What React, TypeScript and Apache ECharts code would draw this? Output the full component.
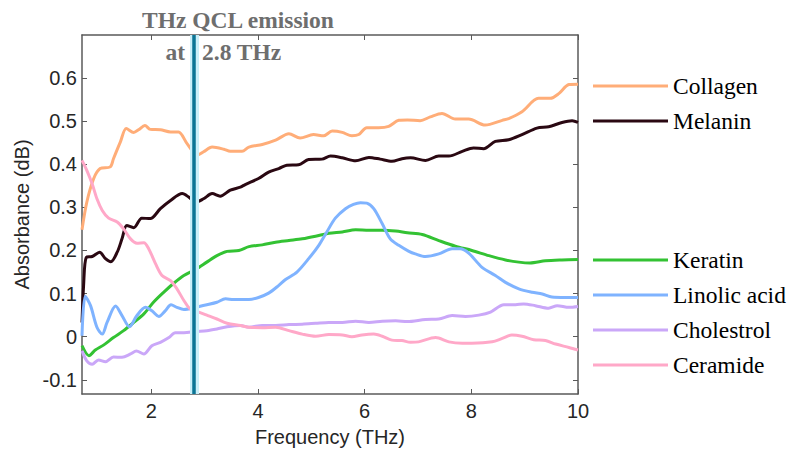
import React, { useEffect, useRef } from "react";
import * as echarts from "echarts";

const xTicks = [2, 4, 6, 8, 10];
const yTicks = [-0.1, 0, 0.1, 0.2, 0.3, 0.4, 0.5, 0.6];
const qclFrequency = 2.8;

const collagen = [[0.7,0.248],[0.79,0.312],[0.92,0.367],[1.04,0.39],[1.23,0.394],[1.29,0.413],[1.42,0.452],[1.53,0.483],[1.67,0.474],[1.76,0.48],[1.88,0.49],[1.98,0.481],[2.17,0.48],[2.36,0.475],[2.51,0.475],[2.67,0.448],[2.86,0.421],[2.98,0.429],[3.14,0.44],[3.36,0.435],[3.48,0.43],[3.7,0.43],[3.83,0.44],[4.08,0.446],[4.33,0.456],[4.58,0.471],[4.79,0.461],[5.04,0.469],[5.23,0.466],[5.39,0.477],[5.58,0.474],[5.76,0.466],[5.89,0.469],[6.04,0.485],[6.26,0.485],[6.45,0.488],[6.64,0.502],[6.8,0.503],[7.04,0.501],[7.23,0.51],[7.45,0.518],[7.7,0.505],[7.95,0.505],[8.26,0.491],[8.58,0.502],[8.7,0.506],[8.95,0.522],[9.26,0.553],[9.48,0.553],[9.64,0.564],[9.83,0.585],[10,0.586]];
const melanin = [[0.7,0.033],[0.73,0.119],[0.78,0.184],[0.89,0.186],[1.03,0.196],[1.14,0.181],[1.24,0.174],[1.36,0.196],[1.45,0.227],[1.54,0.258],[1.67,0.253],[1.82,0.275],[1.98,0.274],[2.17,0.297],[2.36,0.316],[2.58,0.332],[2.7,0.324],[2.83,0.312],[2.98,0.32],[3.14,0.332],[3.29,0.326],[3.48,0.34],[3.67,0.347],[3.76,0.353],[4.01,0.367],[4.2,0.382],[4.39,0.39],[4.54,0.398],[4.76,0.399],[4.95,0.411],[5.2,0.412],[5.36,0.419],[5.58,0.415],[5.83,0.408],[6.08,0.416],[6.29,0.412],[6.51,0.407],[6.7,0.413],[6.86,0.415],[7.14,0.409],[7.39,0.419],[7.58,0.419],[7.83,0.43],[8.04,0.438],[8.23,0.436],[8.45,0.453],[8.7,0.457],[8.95,0.469],[9.23,0.484],[9.45,0.487],[9.7,0.497],[9.89,0.501],[10,0.497]];
const keratin = [[0.7,-0.021],[0.83,-0.044],[0.95,-0.031],[1.11,-0.019],[1.29,-0.002],[1.48,0.014],[1.67,0.033],[1.86,0.053],[2.04,0.08],[2.23,0.103],[2.42,0.124],[2.61,0.142],[2.83,0.156],[3.04,0.173],[3.23,0.188],[3.42,0.198],[3.64,0.2],[3.83,0.209],[4.08,0.213],[4.33,0.219],[4.58,0.223],[4.83,0.227],[5.08,0.233],[5.33,0.24],[5.58,0.243],[5.83,0.248],[6.08,0.247],[6.33,0.247],[6.58,0.245],[6.8,0.241],[7.08,0.237],[7.39,0.223],[7.7,0.21],[8.01,0.2],[8.33,0.188],[8.64,0.178],[8.89,0.173],[9.1,0.171],[9.39,0.176],[9.7,0.178],[10,0.179]];
const linolicAcid = [[0.7,0.002],[0.76,0.094],[0.86,0.072],[0.98,0.022],[1.08,0.006],[1.17,0.033],[1.33,0.071],[1.45,0.049],[1.59,0.023],[1.73,0.049],[1.89,0.068],[2.01,0.06],[2.14,0.047],[2.26,0.06],[2.37,0.074],[2.48,0.068],[2.61,0.063],[2.83,0.068],[3.04,0.074],[3.23,0.08],[3.39,0.088],[3.54,0.086],[3.83,0.086],[4.01,0.091],[4.2,0.101],[4.39,0.119],[4.51,0.132],[4.73,0.15],[4.95,0.181],[5.14,0.212],[5.29,0.243],[5.45,0.275],[5.64,0.297],[5.79,0.307],[5.92,0.311],[6.04,0.31],[6.17,0.297],[6.33,0.262],[6.48,0.227],[6.64,0.212],[6.83,0.198],[6.95,0.192],[7.14,0.186],[7.39,0.192],[7.64,0.204],[7.79,0.204],[7.95,0.194],[8.2,0.161],[8.45,0.142],[8.64,0.126],[8.89,0.111],[9.14,0.103],[9.33,0.099],[9.51,0.092],[9.76,0.091],[10,0.091]];
const cholestrol = [[0.7,-0.033],[0.79,-0.056],[0.89,-0.064],[1.01,-0.054],[1.14,-0.058],[1.29,-0.047],[1.45,-0.048],[1.61,-0.04],[1.72,-0.033],[1.86,-0.04],[2.01,-0.021],[2.17,-0.013],[2.33,-0.002],[2.45,0.009],[2.61,0.009],[2.83,0.012],[3.04,0.014],[3.23,0.018],[3.42,0.023],[3.67,0.026],[3.83,0.022],[4.08,0.026],[4.33,0.026],[4.58,0.028],[4.83,0.029],[5.08,0.031],[5.33,0.033],[5.58,0.033],[5.83,0.036],[6.08,0.033],[6.33,0.036],[6.58,0.037],[6.8,0.035],[7.14,0.04],[7.39,0.041],[7.64,0.049],[7.89,0.047],[8.14,0.05],[8.36,0.057],[8.61,0.074],[8.83,0.074],[8.98,0.076],[9.2,0.072],[9.45,0.066],[9.61,0.072],[9.83,0.068],[10,0.07]];
const ceramide = [[0.7,0.409],[0.79,0.386],[0.89,0.355],[0.98,0.32],[1.08,0.293],[1.2,0.275],[1.36,0.266],[1.48,0.25],[1.61,0.227],[1.73,0.217],[1.86,0.218],[1.95,0.204],[2.08,0.169],[2.2,0.142],[2.36,0.13],[2.48,0.111],[2.61,0.084],[2.73,0.064],[2.89,0.057],[3.04,0.05],[3.23,0.041],[3.42,0.031],[3.67,0.026],[3.83,0.022],[4.08,0.021],[4.33,0.022],[4.58,0.014],[4.83,0.006],[5.08,0.001],[5.33,0.005],[5.58,0.004],[5.76,0.0],[5.95,0.004],[6.17,0.006],[6.33,0.001],[6.51,-0.008],[6.7,-0.009],[6.86,-0.013],[7.01,-0.012],[7.33,-0.002],[7.58,-0.012],[7.83,-0.015],[8.01,-0.015],[8.39,-0.012],[8.58,-0.004],[8.76,0.004],[8.95,0.001],[9.17,-0.007],[9.39,-0.009],[9.58,-0.017],[9.83,-0.025],[10,-0.031]];

const seriesDefs = [
  { name: "Collagen", data: collagen, color: "#ffad78" },
  { name: "Melanin", data: melanin, color: "#2a0812" },
  { name: "Keratin", data: keratin, color: "#33c233" },
  { name: "Linolic acid", data: linolicAcid, color: "#7fb3ff" },
  { name: "Cholestrol", data: cholestrol, color: "#caa7f8" },
  { name: "Ceramide", data: ceramide, color: "#ffa8c8" },
];
const legendGroupTop = ["Collagen", "Melanin"];
const legendGroupBottom = ["Keratin", "Linolic acid", "Cholestrol", "Ceramide"];

const SANS = "Liberation Sans, Arial, Helvetica, sans-serif";
const SERIF = "'Liberation Serif', 'Times New Roman', serif";
const AXIS_COLOR = "#5a5a5a";
const LABEL_COLOR = "#262626";

export default function App() {
  const ref = useRef<HTMLDivElement>(null);
  useEffect(() => {
    if (!ref.current) return;
    const chart = echarts.init(ref.current, null, { renderer: "svg" });
    const fmt = (v: number) => (Math.abs(v) < 1e-9 ? "0" : v.toFixed(1));
    const legendBase = {
      orient: "vertical",
      left: 593,
      padding: 0,
      icon: "rect",
      itemWidth: 75,
      itemHeight: 3,
      itemGap: 11,
      selectedMode: false,
      textStyle: { fontFamily: SERIF, fontSize: 23.5, color: "#000", lineHeight: 24 },
    };
    const option: any = {
      animation: false,
      backgroundColor: "#ffffff",
      grid: { left: 82, right: 213, top: 35, bottom: 57, containLabel: false },
      xAxis: [
        {
          type: "value",
          min: 0.7,
          max: 10,
          name: "Frequency (THz)",
          nameLocation: "middle",
          nameGap: 33,
          nameTextStyle: { fontFamily: SANS, fontSize: 20, color: LABEL_COLOR },
          axisLine: { show: true, onZero: false, lineStyle: { color: AXIS_COLOR, width: 1.5 } },
          axisTick: { show: true, inside: true, length: 5, customValues: xTicks, lineStyle: { color: AXIS_COLOR, width: 1 } },
          axisLabel: { customValues: xTicks, fontFamily: SANS, fontSize: 20, color: LABEL_COLOR, margin: 7, formatter: (v: number) => String(v) },
          splitLine: { show: false },
        },
        {
          type: "value",
          position: "top",
          min: 0.7,
          max: 10,
          axisLine: { show: true, onZero: false, lineStyle: { color: AXIS_COLOR, width: 1.5 } },
          axisTick: { show: true, inside: true, length: 5, customValues: xTicks, lineStyle: { color: AXIS_COLOR, width: 1 } },
          axisLabel: { show: false },
          splitLine: { show: false },
        },
      ],
      yAxis: [
        {
          type: "value",
          min: -0.133,
          max: 0.7,
          name: "Absorbance (dB)",
          nameLocation: "middle",
          nameGap: 42,
          nameTextStyle: { fontFamily: SANS, fontSize: 20, color: LABEL_COLOR },
          axisLine: { show: true, onZero: false, lineStyle: { color: AXIS_COLOR, width: 1.5 } },
          axisTick: { show: true, inside: true, length: 5, customValues: yTicks, lineStyle: { color: AXIS_COLOR, width: 1 } },
          axisLabel: { customValues: yTicks, fontFamily: SANS, fontSize: 20, color: LABEL_COLOR, margin: 5, formatter: fmt },
          splitLine: { show: false },
        },
        {
          type: "value",
          position: "right",
          min: -0.133,
          max: 0.7,
          axisLine: { show: true, onZero: false, lineStyle: { color: AXIS_COLOR, width: 1.5 } },
          axisTick: { show: true, inside: true, length: 5, customValues: yTicks, lineStyle: { color: AXIS_COLOR, width: 1 } },
          axisLabel: { show: false },
          splitLine: { show: false },
        },
      ],
      legend: [
        { ...legendBase, data: legendGroupTop, top: 74 },
        { ...legendBase, data: legendGroupBottom, top: 248 },
      ],
      series: [
        ...seriesDefs.map((s) => ({
          name: s.name,
          type: "line",
          data: s.data,
          showSymbol: false,
          symbol: "none",
          smooth: 0.3,
          color: s.color,
          lineStyle: { color: s.color, width: 3 },
          z: 2,
        })),
        {
          name: "QCL",
          type: "line",
          data: [],
          z: 5,
          markLine: {
            silent: true,
            symbol: ["none", "none"],
            label: { show: false },
            data: [
              { xAxis: qclFrequency, lineStyle: { color: "#c9eff9", width: 9, type: "solid" } },
              { xAxis: qclFrequency, lineStyle: { color: "#0b7595", width: 3.5, type: "solid" } },
            ],
          },
        },
      ],
      graphic: [
        {
          type: "text",
          left: 142,
          top: 8,
          style: { text: "THz QCL emission", fontFamily: SERIF, fontWeight: "bold", fontSize: 23.5, fill: "#6e6e6e" },
        },
        {
          type: "text",
          x: 185,
          y: 52,
          style: { text: "at", fontFamily: SERIF, fontWeight: "bold", fontSize: 23.5, fill: "#6e6e6e", align: "right", verticalAlign: "middle" },
        },
        {
          type: "text",
          x: 202,
          y: 52,
          style: { text: "2.8 THz", fontFamily: SERIF, fontWeight: "bold", fontSize: 23.5, fill: "#6e6e6e", align: "left", verticalAlign: "middle" },
        },
      ],
    };
    chart.setOption(option);
    return () => chart.dispose();
  }, []);
  return (
    <div
      ref={ref}
      style={{ position: "fixed", left: 0, top: 0, width: 791, height: 452, background: "#fff" }}
    />
  );
}
